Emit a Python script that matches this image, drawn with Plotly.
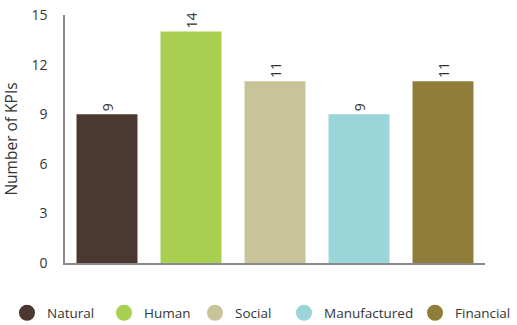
import plotly.graph_objects as go

# KPI counts per capital
categories = ["Natural", "Human", "Social", "Manufactured", "Financial"]
kpi_counts = [9, 14, 11, 9, 11]
bar_colors = ["#4a3831", "#a8cf4f", "#c8c399", "#9ad5d9", "#917d3a"]
y_ticks = [0, 3, 6, 9, 12, 15]

# left edge (px) of each legend entry along the bottom row
legend_left_px = [7, 104, 195, 284, 415]

FONT = "Open Sans"
TEXT = "#353535"
AXIS = "#8a8a8a"

W, H = 517, 325
M_L, M_R, M_T, M_B = 65, 32, 15, 62
plot_w = W - M_L - M_R
plot_h = H - M_T - M_B

fig = go.Figure()

fig.add_trace(go.Bar(
    x=categories,
    y=kpi_counts,
    marker=dict(color=bar_colors, line=dict(width=0)),
    width=0.726,
    text=[str(v) for v in kpi_counts],
    textposition="outside",
    textangle=-90,
    textfont=dict(family=FONT, size=14, color=TEXT),
    cliponaxis=False,
    showlegend=False,
    hoverinfo="x+y",
))

# circular legend entries, one legend box per capital
legend_layout = {}
for i, (name, color, left) in enumerate(zip(categories, bar_colors, legend_left_px)):
    key = "legend" if i == 0 else f"legend{i + 1}"
    fig.add_trace(go.Scatter(
        x=[None], y=[None], mode="markers", name=name,
        marker=dict(symbol="circle", size=16, color=color),
        showlegend=True, legend=key,
    ))
    legend_layout[key] = dict(
        orientation="h",
        x=(left - M_L) / plot_w, xanchor="left",
        y=-50 / plot_h, yanchor="middle",
        font=dict(family=FONT, size=13.5, color=TEXT),
        itemsizing="trace",
        bgcolor="rgba(0,0,0,0)",
    )

fig.update_layout(
    width=W, height=H,
    margin=dict(l=M_L, r=M_R, t=M_T, b=M_B, autoexpand=False),
    paper_bgcolor="white", plot_bgcolor="white",
    font=dict(family=FONT, size=14, color=TEXT),
    xaxis=dict(
        type="category",
        range=[-0.5, 4.5],
        showticklabels=False,
        showgrid=False, zeroline=False,
        showline=True, linecolor=AXIS, linewidth=1.5,
        ticks="",
        fixedrange=True,
    ),
    yaxis=dict(
        range=[0, 15],
        tickvals=y_ticks,
        ticktext=[str(t) for t in y_ticks],
        showgrid=False, zeroline=False,
        showline=True, linecolor=AXIS, linewidth=1.5,
        ticks="", ticklabelstandoff=13,
        tickfont=dict(family=FONT, size=14, color=TEXT),
        title=dict(text="Number of KPIs", standoff=10,
                   font=dict(family=FONT, size=15.5, color=TEXT)),
        fixedrange=True,
    ),
    **legend_layout,
)

fig.write_html("out.html")
